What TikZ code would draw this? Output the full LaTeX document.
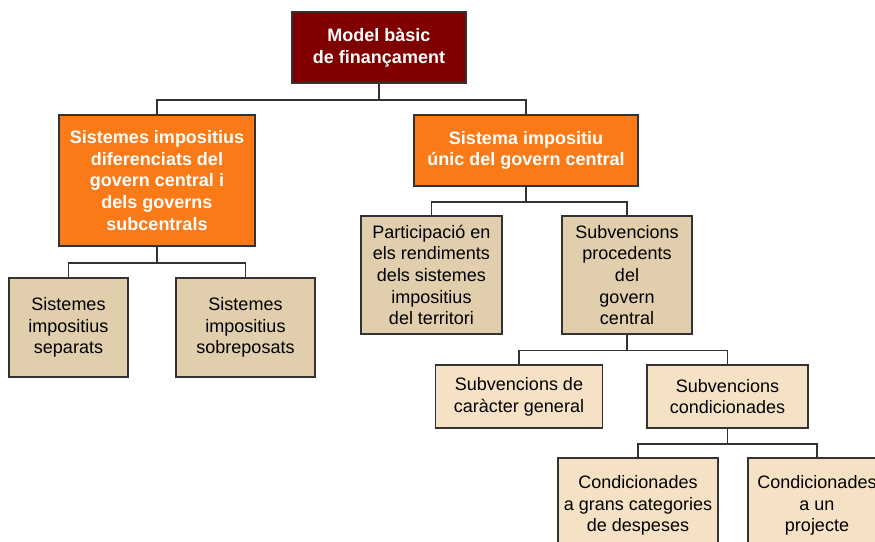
\documentclass[tikz,border=0pt]{standalone}
\usepackage{fontspec}
\setmainfont{Liberation Sans}
\usepackage{xcolor}
\definecolor{maroonbox}{HTML}{800000}
\definecolor{orangebox}{HTML}{F97A17}
\definecolor{tanbox}{HTML}{E0CEAD}
\definecolor{lightbox}{HTML}{F5E2C5}
\definecolor{edgegray}{HTML}{333333}
\tikzset{
  box/.style={draw=edgegray, line width=1.5pt, align=center, inner sep=0pt,
    font=\fontsize{18}{21.7}\selectfont},
  topbox/.style={box, fill=maroonbox, text=white, font=\bfseries\fontsize{18}{21.7}\selectfont},
  orbox/.style={box, fill=orangebox, text=white, font=\bfseries\fontsize{18}{21.7}\selectfont},
  tbox/.style={box, fill=tanbox},
  lbox/.style={box, fill=lightbox},
  link/.style={draw=edgegray, line width=1.5pt}
}

\begin{document}
\begin{tikzpicture}[x=1pt,y=-1pt]
    \useasboundingbox (0,0) rectangle (875,541);
    % Top of the tree
    \node[topbox, minimum width=174pt, minimum height=71pt] (model) at (379,47.5)
        {Model bàsic\\de finançament};
    % Second level
    \node[orbox, minimum width=196pt, minimum height=131pt] (diferenciats) at (157,180.5)
        {Sistemes impositius\\diferenciats del\\govern central i\\dels governs\\subcentrals};
    \node[orbox, minimum width=224pt, minimum height=71pt] (unic) at (526,150.5)
        {Sistema impositiu\\únic del govern central};
    % Third level
    \node[tbox, minimum width=119pt, minimum height=99pt] (separats) at (68.5,327.5)
        {Sistemes\\impositius\\separats};
    \node[tbox, minimum width=139pt, minimum height=99pt] (sobreposats) at (245.5,327.5)
        {Sistemes\\impositius\\sobreposats};
    \node[tbox, minimum width=141pt, minimum height=118pt] (participacio) at (431.5,275)
        {Participació en\\els rendiments\\dels sistemes\\impositius\\del territori};
    \node[tbox, minimum width=130pt, minimum height=118pt] (procedents) at (627,275)
        {Subvencions\\procedents\\del\\govern\\central};
    % Grants
    \node[lbox, minimum width=167pt, minimum height=63pt] (general) at (519,396.5)
        {Subvencions de\\caràcter general};
    \node[lbox, minimum width=161pt, minimum height=63pt] (condicionades) at (727.5,396.5)
        {Subvencions\\condicionades};
    \node[lbox, minimum width=160pt, minimum height=95pt] (grans) at (638,505.5)
        {Condicionades\\a grans categories\\de despeses};
    \node[lbox, minimum width=138pt, minimum height=95pt] (projecte) at (817,505.5)
        {Condicionades\\a un\\projecte};

    % Connectors
    \draw[link] (model.south) -- ++(0,16) -| (diferenciats.north);
    \draw[link] (model.south) -- ++(0,16) -| (unic.north);
    \draw[link] (diferenciats.south) -- ++(0,16) -| (separats.north);
    \draw[link] (diferenciats.south) -- ++(0,16) -| (sobreposats.north);
    \draw[link] (unic.south) -- ++(0,15) -| (participacio.north);
    \draw[link] (unic.south) -- ++(0,15) -| (procedents.north);
    \draw[link] (procedents.south) -- ++(0,15.5) -| (general.north);
    \draw[link] (procedents.south) -- ++(0,15.5) -| (condicionades.north);
    \draw[link] (condicionades.south) -- ++(0,15) -| (grans.north);
    \draw[link] (condicionades.south) -- ++(0,15) -| (projecte.north);
\end{tikzpicture}
\end{document}
